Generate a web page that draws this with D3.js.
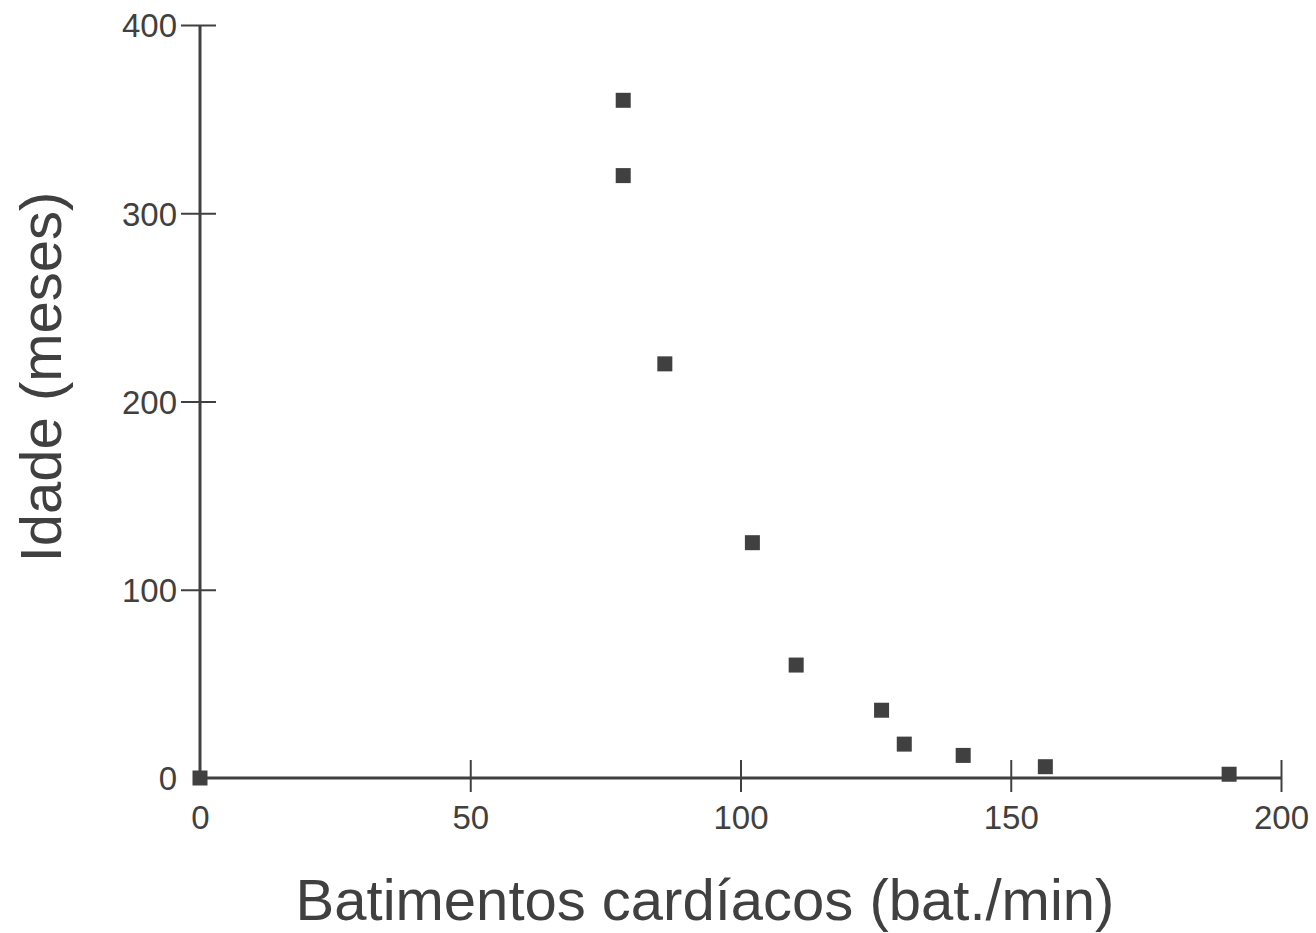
<!DOCTYPE html>
<html>
<head>
<meta charset="utf-8">
<script src="https://cdn.jsdelivr.net/npm/d3@7"></script>
<style>
  html, body { margin: 0; padding: 0; background: #ffffff; }
  svg { display: block; }
</style>
</head>
<body>
<svg id="chart" width="1316" height="933"></svg>
<script>
// Data
const heartRate = [0, 78.3, 78.3, 86, 102.2, 110.3, 126.1, 130.3, 141.2, 156.4, 190.4];
const ageMonths = [0, 360, 320, 220, 125, 60, 36, 18, 12, 6, 2];
const xTicks = [0, 50, 100, 150, 200];
const yTicks = [0, 100, 200, 300, 400];
const xTitle = "Batimentos cardíacos (bat./min)";
const yTitle = "Idade (meses)";

const ink = "#404040";
const svg = d3.select("#chart");

const x = d3.scaleLinear().domain([0, 200]).range([200, 1281]);
const y = d3.scaleLinear().domain([0, 400]).range([778, 25]);

// X axis
const gx = svg.append("g").attr("transform", `translate(0,${y(0)})`)
  .call(d3.axisBottom(x).tickValues(xTicks).tickSize(14).tickPadding(0).tickFormat(d3.format("d")));
gx.select(".domain").remove();
gx.selectAll(".tick line").attr("y1", -18).attr("y2", 14)
  .attr("stroke", ink).attr("stroke-width", 2)
  .attr("display", d => d === 0 ? "none" : null);
gx.selectAll(".tick text").attr("y", 51).attr("dy", null)
  .attr("fill", ink).attr("font-size", 33).attr("font-family", "Liberation Sans, Arial, sans-serif");

// Y axis
const gy = svg.append("g").attr("transform", `translate(${x(0)},0)`)
  .call(d3.axisLeft(y).tickValues(yTicks).tickSize(19).tickPadding(0).tickFormat(d3.format("d")));
gy.select(".domain").remove();
gy.selectAll(".tick line").attr("x1", 16).attr("x2", -19)
  .attr("stroke", ink).attr("stroke-width", 2)
  .attr("display", d => d === 0 ? "none" : null);
gy.selectAll(".tick text").attr("x", -23).attr("dy", "0.36em")
  .attr("fill", ink).attr("font-size", 33).attr("font-family", "Liberation Sans, Arial, sans-serif");

// Axis lines
svg.append("line").attr("x1", x(0)).attr("x2", x(200)).attr("y1", y(0)).attr("y2", y(0))
  .attr("stroke", ink).attr("stroke-width", 3);
svg.append("line").attr("x1", x(0)).attr("x2", x(0)).attr("y1", y(0)).attr("y2", y(400))
  .attr("stroke", ink).attr("stroke-width", 3);

// Points
const s = 15;
svg.append("g").selectAll("rect").data(heartRate.map((d, i) => [d, ageMonths[i]]))
  .join("rect")
  .attr("x", d => x(d[0]) - s / 2)
  .attr("y", d => y(d[1]) - s / 2)
  .attr("width", s).attr("height", s)
  .attr("fill", ink);

// Titles
svg.append("text").attr("x", 705).attr("y", 920).attr("text-anchor", "middle")
  .attr("font-size", 58).attr("font-family", "Liberation Sans, Arial, sans-serif")
  .attr("fill", ink).text(xTitle);
svg.append("text").attr("transform", "translate(61,377) rotate(-90)").attr("text-anchor", "middle")
  .attr("font-size", 58).attr("font-family", "Liberation Sans, Arial, sans-serif")
  .attr("fill", ink).text(yTitle);
</script>
</body>
</html>
